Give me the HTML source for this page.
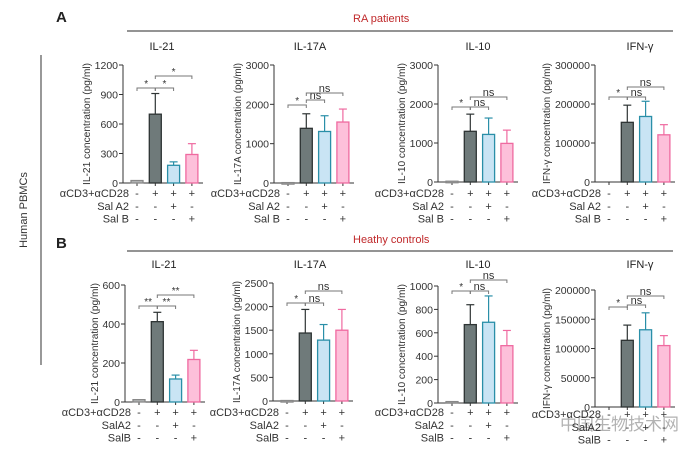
<!DOCTYPE html>
<html><head><meta charset="utf-8"><style>
body{margin:0;background:#fff}
svg{display:block;font-family:"Liberation Sans","Noto Sans CJK SC",sans-serif}
</style></head><body>
<svg id="fig" width="698" height="457" viewBox="0 0 698 457">
<text x="56" y="22" font-size="15" font-weight="bold" fill="#222">A</text>
<text x="353" y="22" font-size="11" fill="#c0292b">RA patients</text>
<line x1="127" y1="31" x2="673" y2="31" stroke="#555" stroke-width="1.2"/>
<text x="56" y="248" font-size="15" font-weight="bold" fill="#222">B</text>
<text x="353" y="243" font-size="11" fill="#c0292b">Heathy controls</text>
<line x1="127" y1="251" x2="673" y2="251" stroke="#555" stroke-width="1.2"/>
<line x1="41" y1="55" x2="41" y2="365" stroke="#555" stroke-width="1.2"/>
<text transform="translate(27,210) rotate(-90)" text-anchor="middle" font-size="11" fill="#333">Human PBMCs</text>
<text x="560" y="430" font-size="17" fill="#999" opacity="0.75">中国生物技术网</text>
</svg>
<script>
// Data
const titles=["IL-21","IL-17A","IL-10","IFN-γ","IL-21","IL-17A","IL-10","IFN-γ"];
const yMaxes=[1200,3000,3000,300000,600,2500,1000,200000];
const tickSteps=[300,1000,1000,100000,200,500,200,50000];
const meanA1=[25,700,180,290];
const errA1=[25,910,215,400];
const meanA2=[10,1390,1310,1550];
const errA2=[10,1760,1710,1880];
const meanA3=[20,1300,1220,990];
const errA3=[20,1740,1640,1330];
const meanA4=[0,153000,168000,121000];
const errA4=[0,197000,207000,147000];
const meanB1=[12,412,118,218];
const errB1=[12,460,138,265];
const meanB2=[10,1440,1290,1500];
const errB2=[10,1940,1620,1940];
const meanB3=[12,670,690,490];
const errB3=[12,840,915,620];
const meanB4=[0,114000,132000,105000];
const errB4=[0,140000,161000,122000];
const sigA1=["*","*","*"],sigA2=["*","ns","ns"],sigA3=["*","ns","ns"],sigA4=["*","ns","ns"];
const sigB1=["**","**","**"],sigB2=["*","ns","ns"],sigB3=["*","ns","ns"],sigB4=["*","ns","ns"];
const means=[meanA1,meanA2,meanA3,meanA4,meanB1,meanB2,meanB3,meanB4];
const errs=[errA1,errA2,errA3,errA4,errB1,errB2,errB3,errB4];
const sigs=[sigA1,sigA2,sigA3,sigA4,sigB1,sigB2,sigB3,sigB4];
const row1=["-","+","+","+"],row2=["-","-","+","-"],row3=["-","-","-","+"];

// layout
const L=[
 {ax:123,top:65,zero:183,tx:162,ty:50,lab:["Sal A2","Sal B"],ly:193,br:[88,88,76]},
 {ax:274,top:65,zero:183,tx:310,ty:50,lab:["Sal A2","Sal B"],ly:193,br:[105,100,93]},
 {ax:438,top:65,zero:182,tx:478,ty:50,lab:["Sal A2","Sal B"],ly:193,br:[107,107,97]},
 {ax:595,top:65,zero:182,tx:640,ty:50,lab:["Sal A2","Sal B"],ly:193,br:[97,97,87]},
 {ax:125,top:285,zero:402,tx:164,ty:268,lab:["SalA2","SalB"],ly:412,br:[306,306,295]},
 {ax:273,top:283,zero:401,tx:310,ty:268,lab:["SalA2","SalB"],ly:412,br:[303,303,291]},
 {ax:438,top:286,zero:403,tx:478,ty:268,lab:["SalA2","SalB"],ly:412,br:[291,291,280]},
 {ax:595,top:290,zero:407,tx:640,ty:268,lab:["SalA2","SalB"],ly:414,br:[307,305,296]}
];
const fills=["#b9bcbc","#6f7a7a","#c9e4f4","#fdc0da"];
const strokes=["#888","#2e3434","#2a8fa8","#ef6aa0"];
const svg=document.getElementById('fig');
const NS="http://www.w3.org/2000/svg";
function mk(tag,attrs,parent){const e=document.createElementNS(NS,tag);for(const k in attrs)e.setAttribute(k,attrs[k]);(parent||svg).appendChild(e);return e;}

for(let p=0;p<8;p++){
 const l=L[p];
 const g=mk('g',{});
 
 
 const yS=v=>l.zero-(v/yMaxes[p])*(l.zero-l.top);
 const cx=i=>l.ax+14+i*18.3;
 const t=mk('text',{x:l.tx,y:l.ty,'text-anchor':'middle','font-size':11,fill:'#222'},g);t.textContent=titles[p];
 
 
 mk('line',{x1:l.ax,y1:l.top,x2:l.ax,y2:l.zero,stroke:'#333','stroke-width':1},g);
 mk('line',{x1:l.ax,y1:l.zero,x2:l.ax+80,y2:l.zero,stroke:'#333','stroke-width':1},g);
 let maxw=0;
 for(let v=0;v<=yMaxes[p];v+=tickSteps[p]){
  const y=yS(v);
  mk('line',{x1:l.ax-4,y1:y,x2:l.ax,y2:y,stroke:'#333'},g);
  const tt=mk('text',{x:l.ax-5,y:y+4,'text-anchor':'end','font-size':10.5,fill:'#333'},g);tt.textContent=v;
  
  
  maxw=Math.max(maxw,String(v).length);
 }
 for(let i=0;i<4;i++) mk('line',{x1:cx(i),y1:l.zero,x2:cx(i),y2:l.zero+3,stroke:'#333'},g);
 const h=l.zero-l.top;
 const yl=mk('text',{transform:`translate(${l.ax-maxw*6-9},${(l.top+l.zero)/2}) rotate(-90)`,'text-anchor':'middle','font-size':10.5,fill:'#333',textLength:h+4,lengthAdjust:'spacingAndGlyphs'},g);
 yl.textContent=titles[p]+" concentration (pg/ml)";
 
 
 for(let i=0;i<4;i++){
  const m=means[p][i],e=errs[p][i],x=cx(i);
  if(e>m){mk('line',{x1:x,y1:yS(m),x2:x,y2:yS(e),stroke:strokes[i],'stroke-width':1.2},g);
   mk('line',{x1:x-4,y1:yS(e),x2:x+4,y2:yS(e),stroke:strokes[i],'stroke-width':1.2},g);}
  if(m>0){const r=mk('rect',{x:x-6,y:yS(m),width:12,height:Math.max(l.zero-yS(m),1.5),fill:fills[i],stroke:strokes[i],'stroke-width':1.3},g);
   
   }
 }
 const pairs=[[0,1],[1,2],[1,3]];
 for(let k=0;k<3;k++){
  const a=cx(pairs[k][0]),b=cx(pairs[k][1]),y=l.br[k];
  mk('path',{d:`M${a} ${y+3}V${y}H${b}V${y+3}`,fill:'none',stroke:'#777','stroke-width':1},g);
  const s=mk('text',{x:(a+b)/2,y:y-1,'text-anchor':'middle','font-size':sigs[p][k]=="ns"?11:10,fill:'#333'},g);
  s.textContent=sigs[p][k];
  
  
 }
 const labs=["αCD3+αCD28",l.lab[0],l.lab[1]],rows=[row1,row2,row3];
 for(let r=0;r<3;r++){
  const y=l.ly+r*12.8+4;
  const lt=mk('text',{x:cx(0)-8,y:y,'text-anchor':'end','font-size':11,fill:'#333'},g);lt.textContent=labs[r];
  
  
  for(let i=0;i<4;i++){const s=mk('text',{x:cx(i),y:y,'text-anchor':'middle','font-size':11,fill:'#333'},g);s.textContent=rows[r][i];}
 }
}
</script>
</body></html>
